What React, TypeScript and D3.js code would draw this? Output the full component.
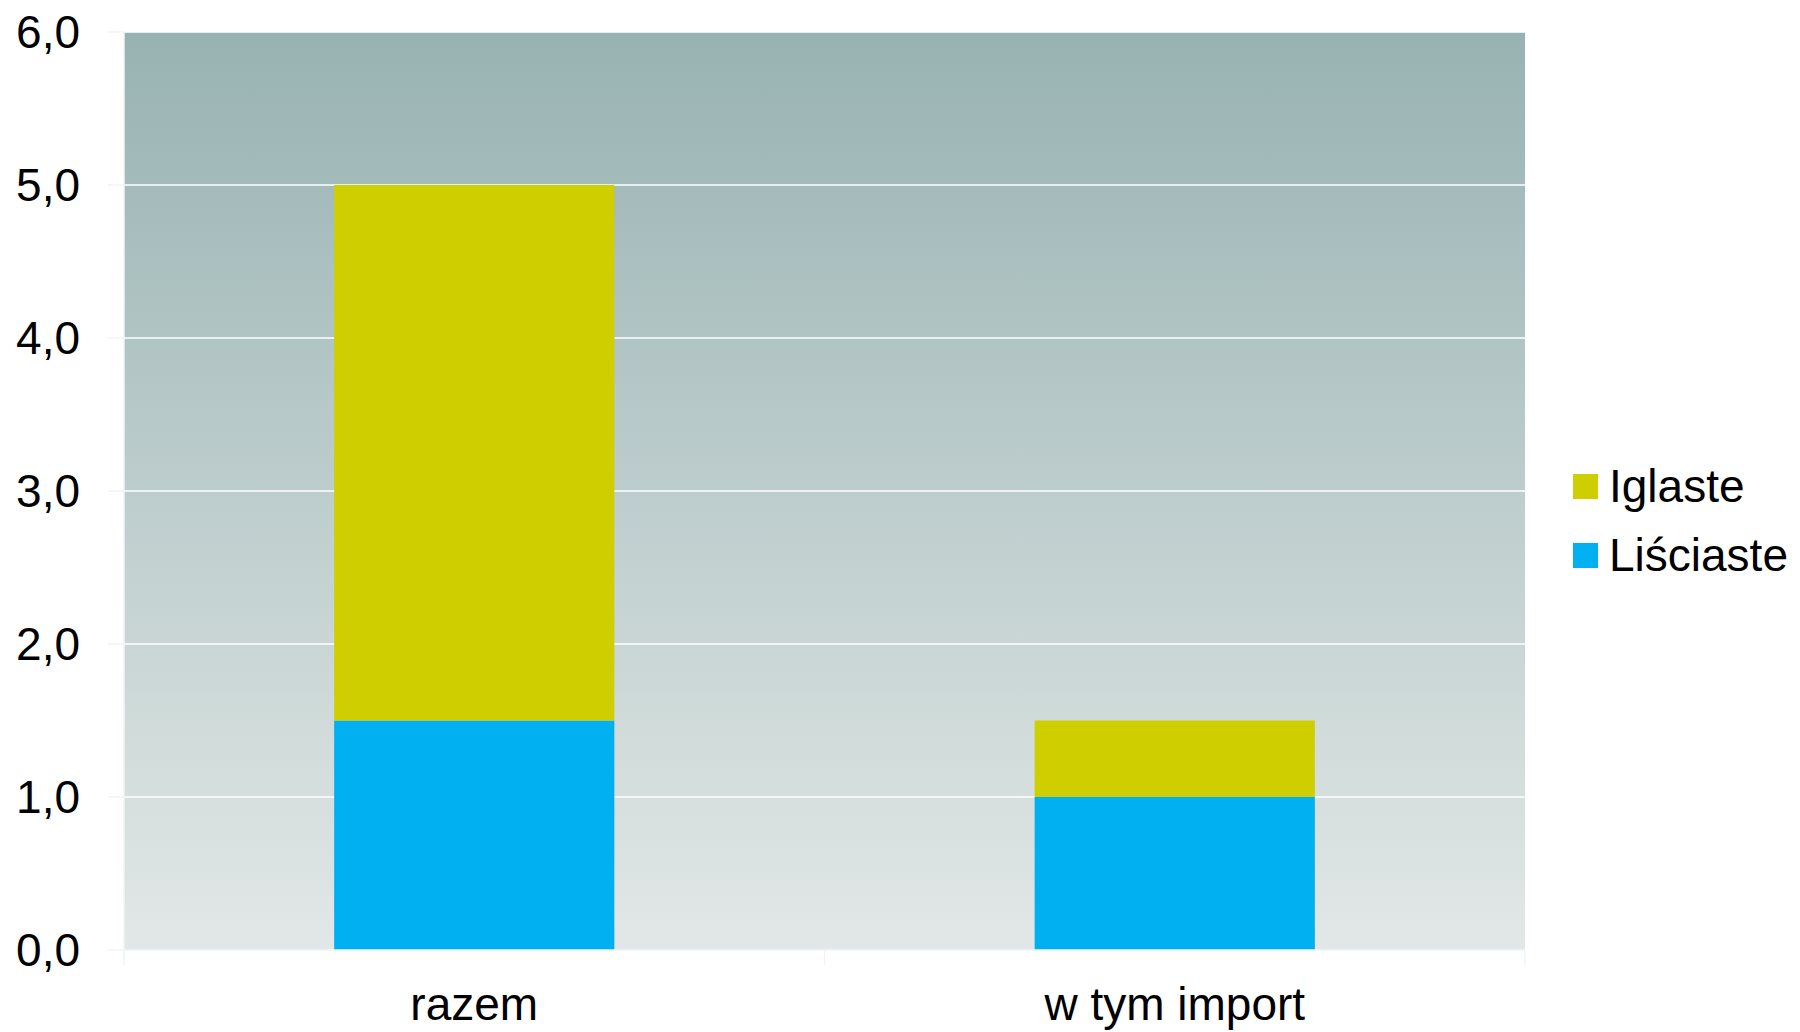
import React, { useEffect, useRef } from 'react';
import * as d3 from 'd3';

// chart data
const categories = ['razem', 'w tym import'];
const seriesNames = ['Liściaste', 'Iglaste'];
const lisciaste = [1.5, 1.0];
const iglaste = [3.5, 0.5];
const seriesColors = ['#00b0f0', '#cfce00'];
const yTicks = [0, 1, 2, 3, 4, 5, 6];
const legendOrder = ['Iglaste', 'Liściaste'];

const App: React.FC = () => {
  const svgRef = useRef<SVGSVGElement>(null);

  useEffect(() => {
    if (!svgRef.current) return;
    const svg = d3.select(svgRef.current);
    svg.selectAll('*').remove();

    const width = 1800;
    const height = 1032;
    const margin = { top: 32, right: 275, bottom: 82, left: 124 };
    const innerW = width - margin.left - margin.right;
    const innerH = height - margin.top - margin.bottom;
    const font = '"Liberation Sans", Arial, Helvetica, sans-serif';

    svg.attr('width', width).attr('height', height);

    // background gradient
    const defs = svg.append('defs');
    const grad = defs.append('linearGradient')
      .attr('id', 'bg-grad')
      .attr('x1', 0).attr('y1', 0).attr('x2', 0).attr('y2', 1);
    grad.append('stop').attr('offset', '0%').attr('stop-color', '#98b2b2');
    grad.append('stop').attr('offset', '100%').attr('stop-color', '#e2e8e7');

    const g = svg.append('g').attr('transform', `translate(${margin.left},${margin.top})`);

    const x = d3.scaleBand<string>()
      .domain(categories)
      .range([0, innerW])
      .paddingInner(0)
      .paddingOuter(0);

    const y = d3.scaleLinear().domain([0, 6]).range([innerH, 0]);

    g.append('rect')
      .attr('width', innerW)
      .attr('height', innerH)
      .attr('fill', 'url(#bg-grad)');

    // gridlines
    g.selectAll('line.grid')
      .data(yTicks.filter(t => t > 0))
      .join('line')
      .attr('class', 'grid')
      .attr('x1', 0).attr('x2', innerW)
      .attr('y1', d => y(d)).attr('y2', d => y(d))
      .attr('stroke', '#ffffff')
      .attr('stroke-width', 1.5);

    // stacked bars
    const rows = categories.map((c, i) => ({ cat: c, 'Liściaste': lisciaste[i], 'Iglaste': iglaste[i] }));
    const stack = d3.stack<any>().keys(seriesNames)(rows);
    const barW = x.bandwidth() / 2.5;

    stack.forEach((layer, si) => {
      g.selectAll(`rect.s${si}`)
        .data(layer)
        .join('rect')
        .attr('class', `s${si}`)
        .attr('x', d => (x(d.data.cat) as number) + (x.bandwidth() - barW) / 2)
        .attr('width', barW)
        .attr('y', d => y(d[1]))
        .attr('height', d => y(d[0]) - y(d[1]))
        .attr('fill', seriesColors[si]);
    });

    // axes
    const axisColor = '#f2f4f4';
    g.append('line')
      .attr('x1', 0).attr('x2', innerW)
      .attr('y1', innerH).attr('y2', innerH)
      .attr('stroke', axisColor).attr('stroke-width', 1.5);
    g.append('line')
      .attr('x1', 0).attr('x2', 0)
      .attr('y1', 0).attr('y2', innerH)
      .attr('stroke', axisColor).attr('stroke-width', 1.5);

    // y ticks
    g.selectAll('line.ytick')
      .data(yTicks)
      .join('line')
      .attr('class', 'ytick')
      .attr('x1', -16).attr('x2', 0)
      .attr('y1', d => y(d)).attr('y2', d => y(d))
      .attr('stroke', axisColor).attr('stroke-width', 1.5);

    // x ticks at band boundaries
    const xBounds = [0, ...categories.map(c => (x(c) as number) + x.bandwidth())];
    g.selectAll('line.xtick')
      .data(xBounds)
      .join('line')
      .attr('class', 'xtick')
      .attr('x1', d => d).attr('x2', d => d)
      .attr('y1', innerH).attr('y2', innerH + 15)
      .attr('stroke', axisColor).attr('stroke-width', 1.5);

    const fmt = (v: number) => v.toFixed(1).replace('.', ',');

    g.selectAll('text.ylabel')
      .data(yTicks)
      .join('text')
      .attr('class', 'ylabel')
      .attr('x', -44)
      .attr('y', d => y(d) + 16)
      .attr('text-anchor', 'end')
      .attr('font-family', font)
      .attr('font-size', 46)
      .attr('fill', '#000')
      .text(d => fmt(d));

    g.selectAll('text.xlabel')
      .data(categories)
      .join('text')
      .attr('class', 'xlabel')
      .attr('x', d => (x(d) as number) + x.bandwidth() / 2)
      .attr('y', innerH + 70)
      .attr('text-anchor', 'middle')
      .attr('font-family', font)
      .attr('font-size', 46)
      .attr('fill', '#000')
      .text(d => d);

    // legend
    const legend = svg.append('g').attr('transform', 'translate(1573,474)');
    legendOrder.forEach((name, i) => {
      const row = legend.append('g').attr('transform', `translate(0,${i * 69})`);
      row.append('rect')
        .attr('width', 25).attr('height', 25)
        .attr('fill', seriesColors[seriesNames.indexOf(name)]);
      row.append('text')
        .attr('x', 36)
        .attr('y', 28)
        .attr('font-family', font)
        .attr('font-size', 46)
        .attr('fill', '#000')
        .text(name);
    });
  }, []);

  return (
    <div style={{ position: 'fixed', left: 0, top: 0, width: 1800, height: 1032, overflow: 'hidden', background: '#fff' }}>
      <svg ref={svgRef} style={{ display: 'block' }}></svg>
    </div>
  );
};

export default App;
